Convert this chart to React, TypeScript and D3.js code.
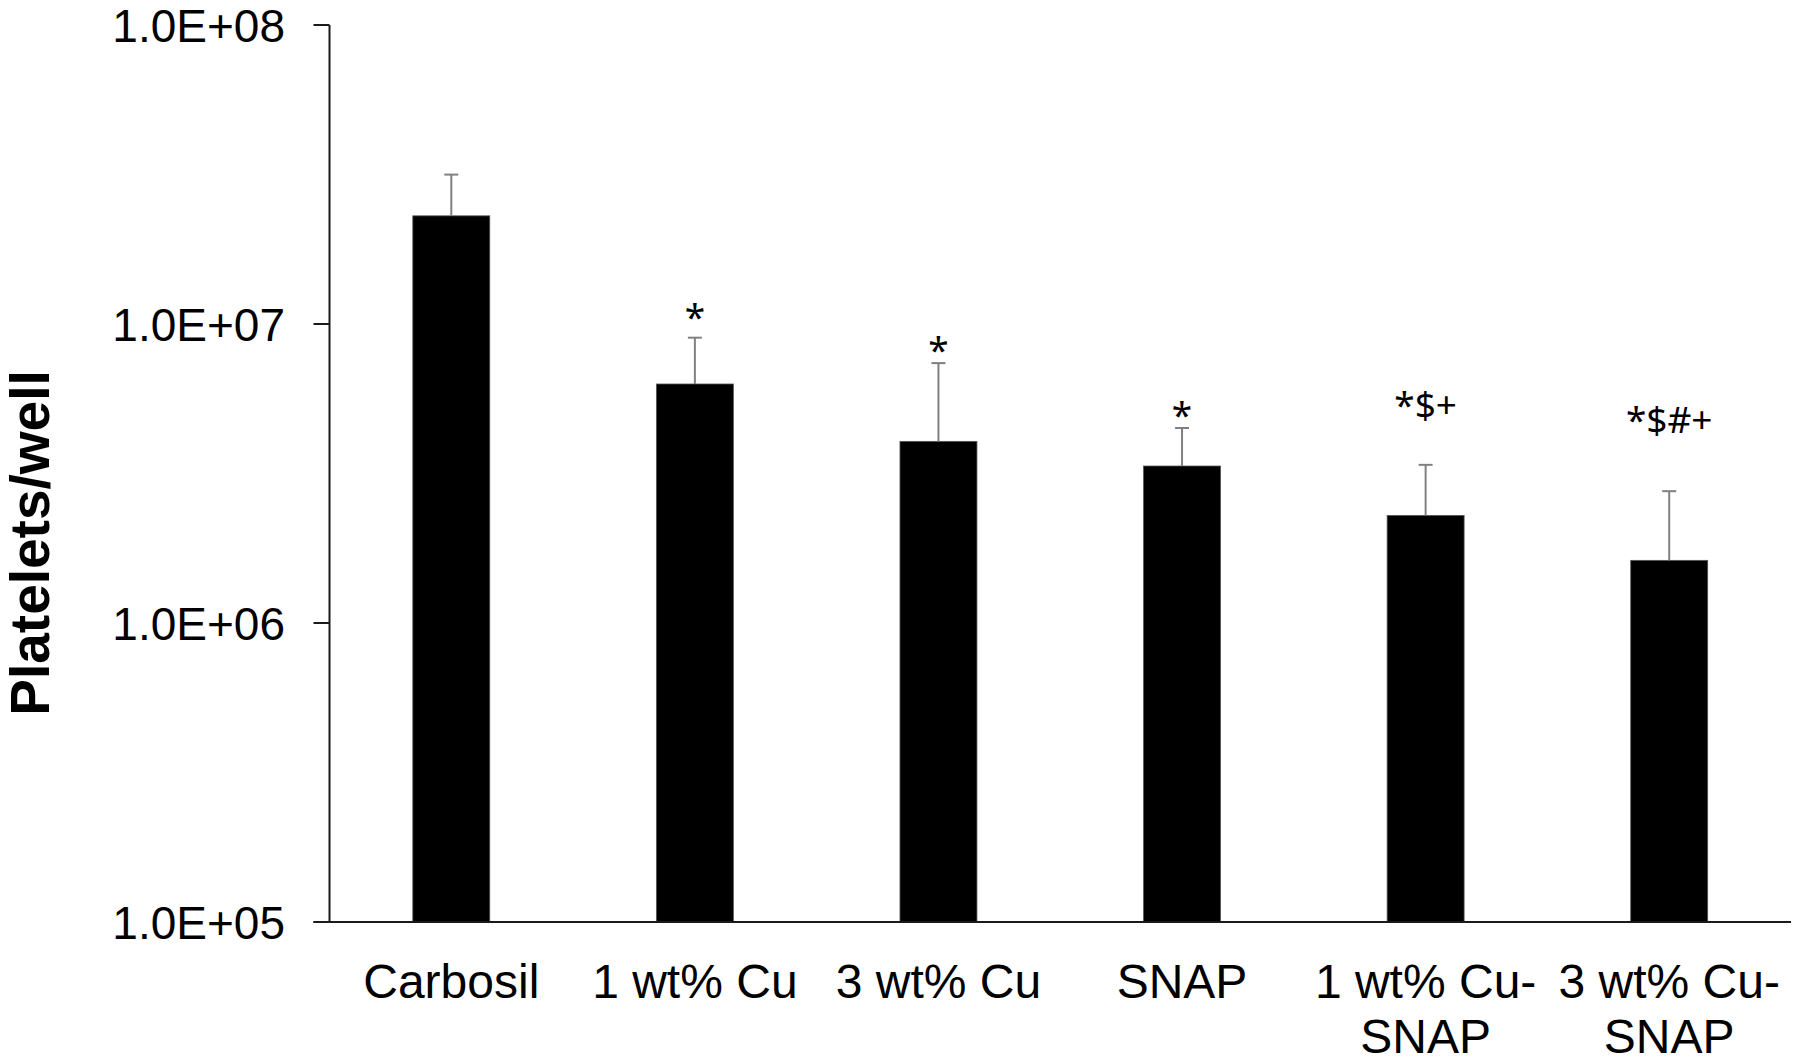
import React from "react";
import * as d3 from "d3";

const categories = ["Carbosil", "1 wt% Cu", "3 wt% Cu", "SNAP", "1 wt% Cu-SNAP", "3 wt% Cu-SNAP"];
const categoryLines = [["Carbosil"], ["1 wt% Cu"], ["3 wt% Cu"], ["SNAP"], ["1 wt% Cu-", "SNAP"], ["3 wt% Cu-", "SNAP"]];
const meanValues = [2.3e7, 6.3e6, 4.05e6, 3.35e6, 2.29e6, 1.62e6];
const errorValues = [8.6e6, 2.7e6, 3.35e6, 1.14e6, 1.09e6, 1.14e6];
const significance = ["", "*", "*", "*", "*$+", "*$#+"];
const yTicks = [1e5, 1e6, 1e7, 1e8];
const yTickLabels = ["1.0E+05", "1.0E+06", "1.0E+07", "1.0E+08"];
const yTitle = "Platelets/well";

export default function App() {
  const W = 1800, H = 1062;
  const left = 329.5, right = 1791, top = 25, bottom = 922;
  const y = d3.scaleLog().domain([1e5, 1e8]).range([bottom, top]);
  const x = d3.scaleBand<string>().domain(categories).range([left, right]).paddingInner(0.684).paddingOuter(0.342);
  const bw = x.bandwidth();
  const labelLift = [0, 8, 0, 0, 47, 58];
  const axisColor = "#1a1a1a";
  const font = "'Liberation Sans', Arial, sans-serif";

  return (
    <svg width={W} height={H} style={{ position: "absolute", left: 0, top: 0, background: "#fff" }}>
      <rect x={0} y={0} width={W} height={H} fill="#fff" />
      {categories.map((c, i) => {
        const x0 = x(c)!;
        const cx = x0 + bw / 2;
        const yTop = y(meanValues[i]);
        const yErr = y(meanValues[i] + errorValues[i]);
        return (
          <g key={c}>
            <rect x={x0} y={yTop} width={bw} height={bottom - yTop} fill="#000" stroke="#555" strokeWidth={0.8} />
            <line x1={cx} x2={cx} y1={yTop} y2={yErr} stroke="#808080" strokeWidth={2} />
            <line x1={cx - 7} x2={cx + 7} y1={yErr} y2={yErr} stroke="#808080" strokeWidth={2} />
            {significance[i] && (
              <text x={cx} y={yErr - labelLift[i]} textAnchor="middle" fontFamily="'Noto Sans', sans-serif" fontSize={37} fill="#000">
                {significance[i]}
              </text>
            )}
          </g>
        );
      })}
      <line x1={left} x2={left} y1={top} y2={bottom} stroke={axisColor} strokeWidth={2} />
      <line x1={left - 16} x2={right} y1={bottom} y2={bottom} stroke={axisColor} strokeWidth={2} />
      {yTicks.map((t, i) => (
        <g key={t}>
          <line x1={left - 16} x2={left} y1={y(t)} y2={y(t)} stroke={axisColor} strokeWidth={2} />
          <text x={285} y={y(t) + 17} textAnchor="end" fontFamily={font} fontSize={46} fill="#000">
            {yTickLabels[i]}
          </text>
        </g>
      ))}
      {categories.map((c, i) => (
        <text key={c} x={x(c)! + bw / 2} y={998} textAnchor="middle" fontFamily={font} fontSize={48} fill="#000">
          {categoryLines[i].map((ln, j) => (
            <tspan key={j} x={x(c)! + bw / 2} dy={j === 0 ? 0 : 55}>{ln}</tspan>
          ))}
        </text>
      ))}
      <text transform={`translate(49, 543) rotate(-90)`} textAnchor="middle" fontFamily={font} fontWeight="bold" fontSize={55} fill="#000">
        {yTitle}
      </text>
    </svg>
  );
}
